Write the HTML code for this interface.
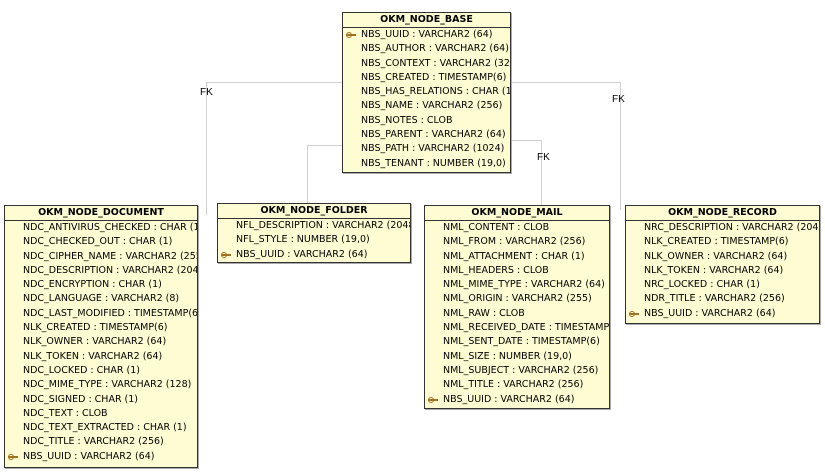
<!DOCTYPE html>
<html><head><style>
body{margin:0;width:825px;height:472px;background:#fff;position:relative;overflow:hidden;font-family:"DejaVu Sans","Liberation Sans",sans-serif;font-size:9.5px;color:#000}
.t{position:absolute;background:#fefcd2;border:1px solid #333;box-shadow:1px 1px 0 #aaa;overflow:hidden}
.h{height:14px;line-height:14px;text-align:center;font-weight:bold;border-bottom:1px solid #333;font-size:9.5px}
.r{height:14.3px;line-height:14.3px;padding-left:18px;white-space:nowrap;position:relative}
.k:before{content:"";position:absolute;left:4px;top:6px;width:9px;height:2px;background:#a07020}
.k:after{content:"";position:absolute;left:3px;top:4px;width:4px;height:4px;border:1px solid #a07020;border-radius:50%}
.fk{position:absolute;font-family:"Liberation Sans",sans-serif;font-size:10px}
.pad{height:0px}
</style></head><body>
<svg width="825" height="472" style="position:absolute;left:0;top:0">
<g stroke="#d0d0d0" fill="none" stroke-width="1">
<polyline points="342,82.5 206.5,82.5 206.5,215"/>
<polyline points="510,82.5 620.5,82.5 620.5,210"/>
<polyline points="342,145.5 307.5,145.5 307.5,203"/>
<polyline points="510,140.5 541.5,140.5 541.5,205"/>
</g></svg>
<div class="fk" style="left:200px;top:87px">FK</div>
<div class="fk" style="left:612px;top:94px">FK</div>
<div class="fk" style="left:357px;top:108px">FK</div>
<div class="fk" style="left:537px;top:152px">FK</div>

<div class="t" style="left:342px;top:12px;width:167px;height:159px">
<div class="h">OKM_NODE_BASE</div><div class="pad"></div>
<div class="r k">NBS_UUID : VARCHAR2 (64)</div>
<div class="r">NBS_AUTHOR : VARCHAR2 (64)</div>
<div class="r">NBS_CONTEXT : VARCHAR2 (32)</div>
<div class="r">NBS_CREATED : TIMESTAMP(6)</div>
<div class="r">NBS_HAS_RELATIONS : CHAR (1)</div>
<div class="r">NBS_NAME : VARCHAR2 (256)</div>
<div class="r">NBS_NOTES : CLOB</div>
<div class="r">NBS_PARENT : VARCHAR2 (64)</div>
<div class="r">NBS_PATH : VARCHAR2 (1024)</div>
<div class="r">NBS_TENANT : NUMBER (19,0)</div>
</div>

<div class="t" style="left:4px;top:205px;width:192px;height:261px">
<div class="h">OKM_NODE_DOCUMENT</div><div class="pad"></div>
<div class="r">NDC_ANTIVIRUS_CHECKED : CHAR (1)</div>
<div class="r">NDC_CHECKED_OUT : CHAR (1)</div>
<div class="r">NDC_CIPHER_NAME : VARCHAR2 (255)</div>
<div class="r">NDC_DESCRIPTION : VARCHAR2 (2048)</div>
<div class="r">NDC_ENCRYPTION : CHAR (1)</div>
<div class="r">NDC_LANGUAGE : VARCHAR2 (8)</div>
<div class="r">NDC_LAST_MODIFIED : TIMESTAMP(6)</div>
<div class="r">NLK_CREATED : TIMESTAMP(6)</div>
<div class="r">NLK_OWNER : VARCHAR2 (64)</div>
<div class="r">NLK_TOKEN : VARCHAR2 (64)</div>
<div class="r">NDC_LOCKED : CHAR (1)</div>
<div class="r">NDC_MIME_TYPE : VARCHAR2 (128)</div>
<div class="r">NDC_SIGNED : CHAR (1)</div>
<div class="r">NDC_TEXT : CLOB</div>
<div class="r">NDC_TEXT_EXTRACTED : CHAR (1)</div>
<div class="r">NDC_TITLE : VARCHAR2 (256)</div>
<div class="r k">NBS_UUID : VARCHAR2 (64)</div>
</div>

<div class="t" style="left:217px;top:203px;width:192px;height:58px">
<div class="h">OKM_NODE_FOLDER</div><div class="pad"></div>
<div class="r">NFL_DESCRIPTION : VARCHAR2 (2048)</div>
<div class="r">NFL_STYLE : NUMBER (19,0)</div>
<div class="r k">NBS_UUID : VARCHAR2 (64)</div>
</div>

<div class="t" style="left:424px;top:205px;width:184px;height:202px">
<div class="h">OKM_NODE_MAIL</div><div class="pad"></div>
<div class="r">NML_CONTENT : CLOB</div>
<div class="r">NML_FROM : VARCHAR2 (256)</div>
<div class="r">NML_ATTACHMENT : CHAR (1)</div>
<div class="r">NML_HEADERS : CLOB</div>
<div class="r">NML_MIME_TYPE : VARCHAR2 (64)</div>
<div class="r">NML_ORIGIN : VARCHAR2 (255)</div>
<div class="r">NML_RAW : CLOB</div>
<div class="r">NML_RECEIVED_DATE : TIMESTAMP(6)</div>
<div class="r">NML_SENT_DATE : TIMESTAMP(6)</div>
<div class="r">NML_SIZE : NUMBER (19,0)</div>
<div class="r">NML_SUBJECT : VARCHAR2 (256)</div>
<div class="r">NML_TITLE : VARCHAR2 (256)</div>
<div class="r k">NBS_UUID : VARCHAR2 (64)</div>
</div>

<div class="t" style="left:625px;top:205px;width:193px;height:117px">
<div class="h">OKM_NODE_RECORD</div><div class="pad"></div>
<div class="r">NRC_DESCRIPTION : VARCHAR2 (2048)</div>
<div class="r">NLK_CREATED : TIMESTAMP(6)</div>
<div class="r">NLK_OWNER : VARCHAR2 (64)</div>
<div class="r">NLK_TOKEN : VARCHAR2 (64)</div>
<div class="r">NRC_LOCKED : CHAR (1)</div>
<div class="r">NDR_TITLE : VARCHAR2 (256)</div>
<div class="r k">NBS_UUID : VARCHAR2 (64)</div>
</div>
</body></html>
